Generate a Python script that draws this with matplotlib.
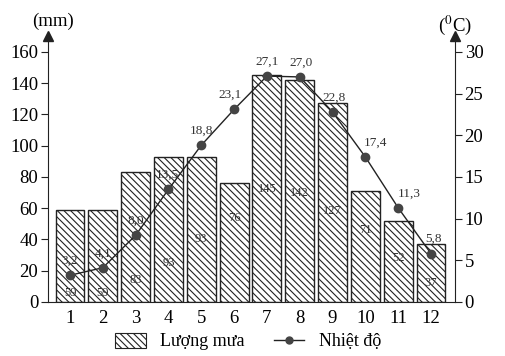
import matplotlib.pyplot as plt
import numpy as np
from matplotlib.patches import Patch
from matplotlib.lines import Line2D

plt.rcParams['font.family'] = ['Liberation Serif', 'DejaVu Serif']
plt.rcParams['mathtext.fontset'] = 'stix'
plt.rcParams['hatch.linewidth'] = 0.8

months = [1, 2, 3, 4, 5, 6, 7, 8, 9, 10, 11, 12]
rain = [59, 59, 83, 93, 93, 76, 145, 142, 127, 71, 52, 37]
temp = [3.2, 4.1, 8.0, 13.5, 18.8, 23.1, 27.1, 27.0, 22.8, 17.4, 11.3, 5.8]
temp_text = ["3,2", "4,1", "8,0", "13,5", "18,8", "23,1", "27,1", "27,0", "22,8", "17,4", "11,3", "5,8"]

# where the value labels sit (layout only)
rain_label_y = [6, 6, 14, 25, 40, 54, 72, 70, 58, 46, 28, 12]
temp_dx = [0, 0, 0, -1, 0, -3, 0, 1, 1, 7, 8, 2]

fig = plt.figure(figsize=(5.06, 3.56), dpi=100)
ax = fig.add_axes([0.095, 0.152, 0.804, 0.746])
ax2 = ax.twinx()

ax.bar(months, rain, width=0.88, facecolor='white', edgecolor='#222222',
       linewidth=1.0, hatch='\\' * 5)
for m, r, ly in zip(months, rain, rain_label_y):
    ax.text(m, ly, str(r), ha='center', va='center', fontsize=9, color='#333333')

ax2.plot(months, temp, color='#222222', linewidth=1.0, marker='o',
         markersize=6, markerfacecolor='#444444', markeredgecolor='#444444')
for m, t, s, dx in zip(months, temp, temp_text, temp_dx):
    ax2.annotate(s, (m, t), xytext=(dx, 6), textcoords='offset points',
                 ha='center', va='bottom', fontsize=9.5, color='#333333')

ax.set_xlim(0.33, 12.73)
ax.set_ylim(0, 170)
ax2.set_ylim(0, 170 * 30 / 160)
ax.set_yticks(range(0, 161, 20))
ax2.set_yticks(range(0, 31, 5))
ax.set_xticks(months)

for a in (ax, ax2):
    a.spines['top'].set_visible(False)
ax.spines['right'].set_visible(False)
ax2.spines['left'].set_visible(False)
ax2.spines['bottom'].set_visible(False)
ax.spines['left'].set_color('#222222')
ax.spines['bottom'].set_color('#222222')
ax2.spines['right'].set_color('#222222')

ax.tick_params(axis='y', labelsize=13.5, length=5, direction='out', pad=2, color='#222222')
ax.tick_params(axis='x', labelsize=13.5, length=0, pad=6)
ax2.tick_params(axis='y', labelsize=13.5, length=5, direction='out', pad=2, color='#222222')

# arrows on the vertical axes
ax.plot([0], [1], marker='^', color='#222222', markersize=7, transform=ax.transAxes, clip_on=False)
ax.plot([1], [1], marker='^', color='#222222', markersize=7, transform=ax.transAxes, clip_on=False)

fig.text(0.105, 0.94, "(mm)", ha='center', va='center', fontsize=13.5)
fig.text(0.9, 0.93, r"($^{0}$C)", ha='center', va='center', fontsize=13.5)

handles = [
    Patch(facecolor='white', edgecolor='#222222', hatch='\\' * 5, linewidth=0.8),
    Line2D([0], [0], color='#222222', linewidth=1.0, marker='o', markersize=5,
           markerfacecolor='#444444', markeredgecolor='#444444'),
]
fig.legend(handles, ["Lượng mưa", "Nhiệt độ"], loc='lower center', ncol=2,
           frameon=False, fontsize=13, bbox_to_anchor=(0.49, -0.03),
           handlelength=1.7, handleheight=0.9, columnspacing=1.6, handletextpad=0.8)

plt.savefig("out.png", dpi=100)
